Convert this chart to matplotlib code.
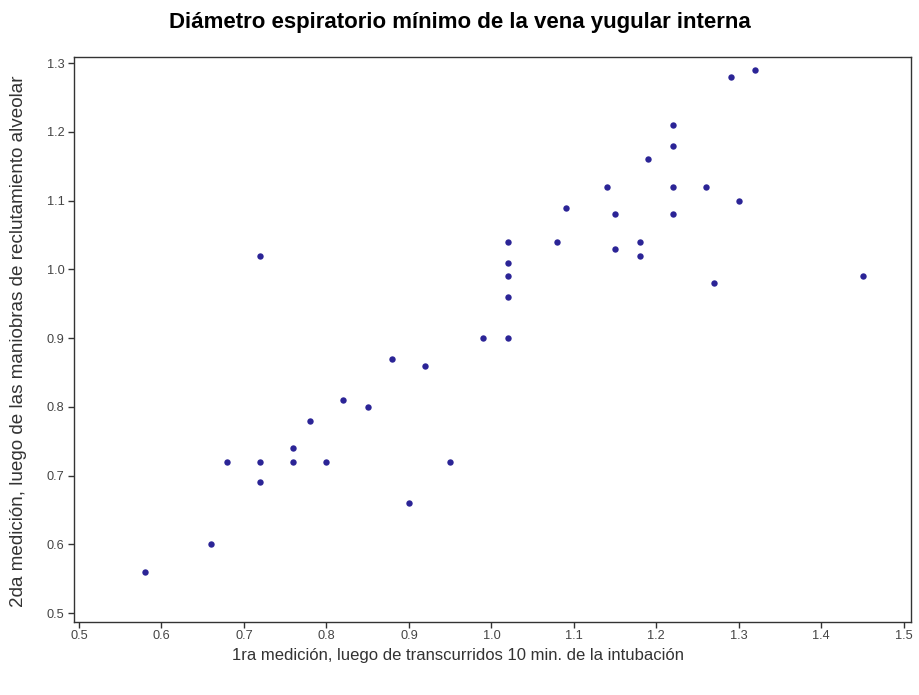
import matplotlib
matplotlib.use("Agg")
import matplotlib.pyplot as plt
import numpy as np

plt.rcParams['font.family'] = ['Liberation Sans', 'DejaVu Sans']

# first measurement (10 min after intubation) vs second (after recruitment)
primera = [0.58, 0.66, 0.68, 0.72, 0.72, 0.72, 0.76, 0.76, 0.78, 0.80,
           0.82, 0.85, 0.88, 0.90, 0.92, 0.95, 0.99, 1.02, 1.02, 1.02,
           1.02, 1.02, 1.08, 1.09, 1.14, 1.15, 1.15, 1.18, 1.18, 1.19,
           1.22, 1.22, 1.22, 1.22, 1.26, 1.27, 1.29, 1.30, 1.32, 1.45]
segunda = [0.56, 0.60, 0.72, 0.72, 0.69, 1.02, 0.74, 0.72, 0.78, 0.72,
           0.81, 0.80, 0.87, 0.66, 0.86, 0.72, 0.90, 0.90, 0.96, 0.99,
           1.01, 1.04, 1.04, 1.09, 1.12, 1.08, 1.03, 1.04, 1.02, 1.16,
           1.21, 1.18, 1.12, 1.08, 1.12, 0.98, 1.28, 1.10, 1.29, 0.99]

xticks = np.round(np.arange(0.5, 1.51, 0.1), 1)
yticks = np.round(np.arange(0.5, 1.31, 0.1), 1)

fig = plt.figure(figsize=(9.2, 6.95), dpi=100)
ax = fig.add_axes([0.0805, 0.105, 0.9095, 0.813])

ax.plot(primera, segunda, 'o', color='#2b2496', markersize=4.6, markeredgewidth=0)

ax.set_xlim(0.494, 1.5085)
ax.set_ylim(0.487, 1.309)
ax.set_xticks(xticks)
ax.set_yticks(yticks)
ax.set_xticklabels([f'{v:.1f}' for v in xticks])
ax.set_yticklabels([f'{v:.1f}' for v in yticks])
ax.tick_params(direction='out', length=4.5, width=1, labelsize=9.2,
               labelcolor='#444444', color='#333333')
ax.tick_params(axis='x', pad=1.5)
ax.tick_params(axis='y', pad=2.5)

for s in ax.spines.values():
    s.set_linewidth(1.0)
    s.set_color('#333333')

fig.text(0.5, 0.960, 'Diámetro espiratorio mínimo de la vena yugular interna',
         ha='center', va='baseline', fontsize=16, fontweight='bold')
fig.text(0.4975, 0.057, '1ra medición, luego de transcurridos 10 min. de la intubación',
         ha='center', va='center', fontsize=12, color='#333333')
fig.text(0.0205, 0.5086, '2da medición, luego de las maniobras de reclutamiento alveolar',
         ha='center', va='center', rotation=90, fontsize=13.6, color='#333333')

fig.savefig('out.png', dpi=100)
